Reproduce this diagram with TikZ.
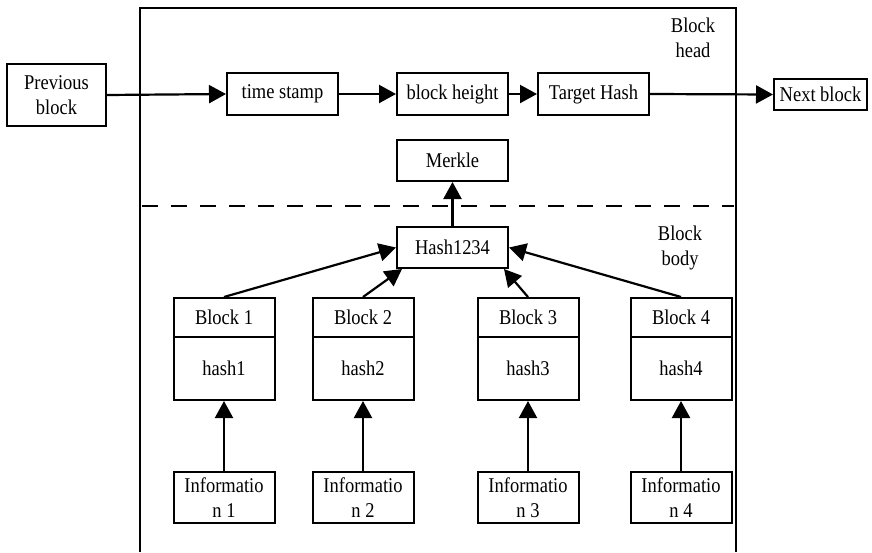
\documentclass[tikz,border=0pt]{standalone}
\usepackage{fontspec}
\setmainfont{Liberation Serif}
\newfontfamily\tnrfont[FakeStretch=0.88]{Liberation Serif}
\usetikzlibrary{arrows.meta,calc}
\begin{document}
\begin{tikzpicture}[x=1pt,y=-1pt,
  every node/.style={font=\tnrfont\fontsize{21}{25.5}\selectfont},
  box/.style={draw,line width=2pt,inner sep=0pt,align=center},
  conn/.style={line width=2.2pt,-{Triangle[length=17pt,width=18pt]}},
  frame/.style={line width=2pt}]
\useasboundingbox (0,0) rectangle (872,552);
% outer block frame
\draw[frame] (140,552) -- (140,8) -- (736,8) -- (736,552);
\draw[line width=2pt,dash pattern=on 16pt off 13pt] (142,206) -- (734,206);
\node (headlbl) at (693,38) [align=center] {Block\\head};
\node (bodylbl) at (680,248) [align=center] {Block\\body};
% top row
\node[box,minimum width=99pt,minimum height=62pt] (prev) at (56.5,95) {Previous\\block};
\node[box,minimum width=111pt,minimum height=42pt] (ts) at (282.5,94) {time stamp};
\node[box,minimum width=111pt,minimum height=42pt] (bh) at (452.5,94) {block height};
\node[box,minimum width=111pt,minimum height=42pt] (th) at (593.5,94) {Target Hash};
\node[box,minimum width=93pt,minimum height=31pt] (next) at (820.5,94.5) {Next block};
\node[box,minimum width=111pt,minimum height=41pt] (merkle) at (452.5,160.5) {Merkle};
\node[box,minimum width=111pt,minimum height=41pt] (hash) at (452.5,247.5) {Hash1234};
% blocks
\foreach \i/\x in {1/224,2/363,3/528,4/681}{
  \node[box,minimum width=101pt,minimum height=39pt] (b\i) at (\x,317.5) {Block \i};
  \node[box,minimum width=101pt,minimum height=63pt] (h\i) at (\x,368.5) {hash\i};
  \node[box,minimum width=101pt,minimum height=51pt] (inf\i) at (\x,497.5) {Informatio\\n \i};
  \draw[conn] (inf\i.north) -- (h\i.south);
}
% connectors
\draw[conn] (prev.east) -- (ts.west);
\draw[conn] (ts.east) -- (bh.west);
\draw[conn] (bh.east) -- (th.west);
\draw[conn] (th.east) -- (next.west);
\draw[conn] (hash.north) -- (merkle.south);
\draw[conn] (b1.north) -- (hash.west);
\draw[conn] (b2.north) -- ($(hash.south west)+(6,0)$);
\draw[conn] (b3.north) -- ($(hash.south east)+(-5,0)$);
\draw[conn] (b4.north) -- (hash.east);
\end{tikzpicture}
\end{document}
